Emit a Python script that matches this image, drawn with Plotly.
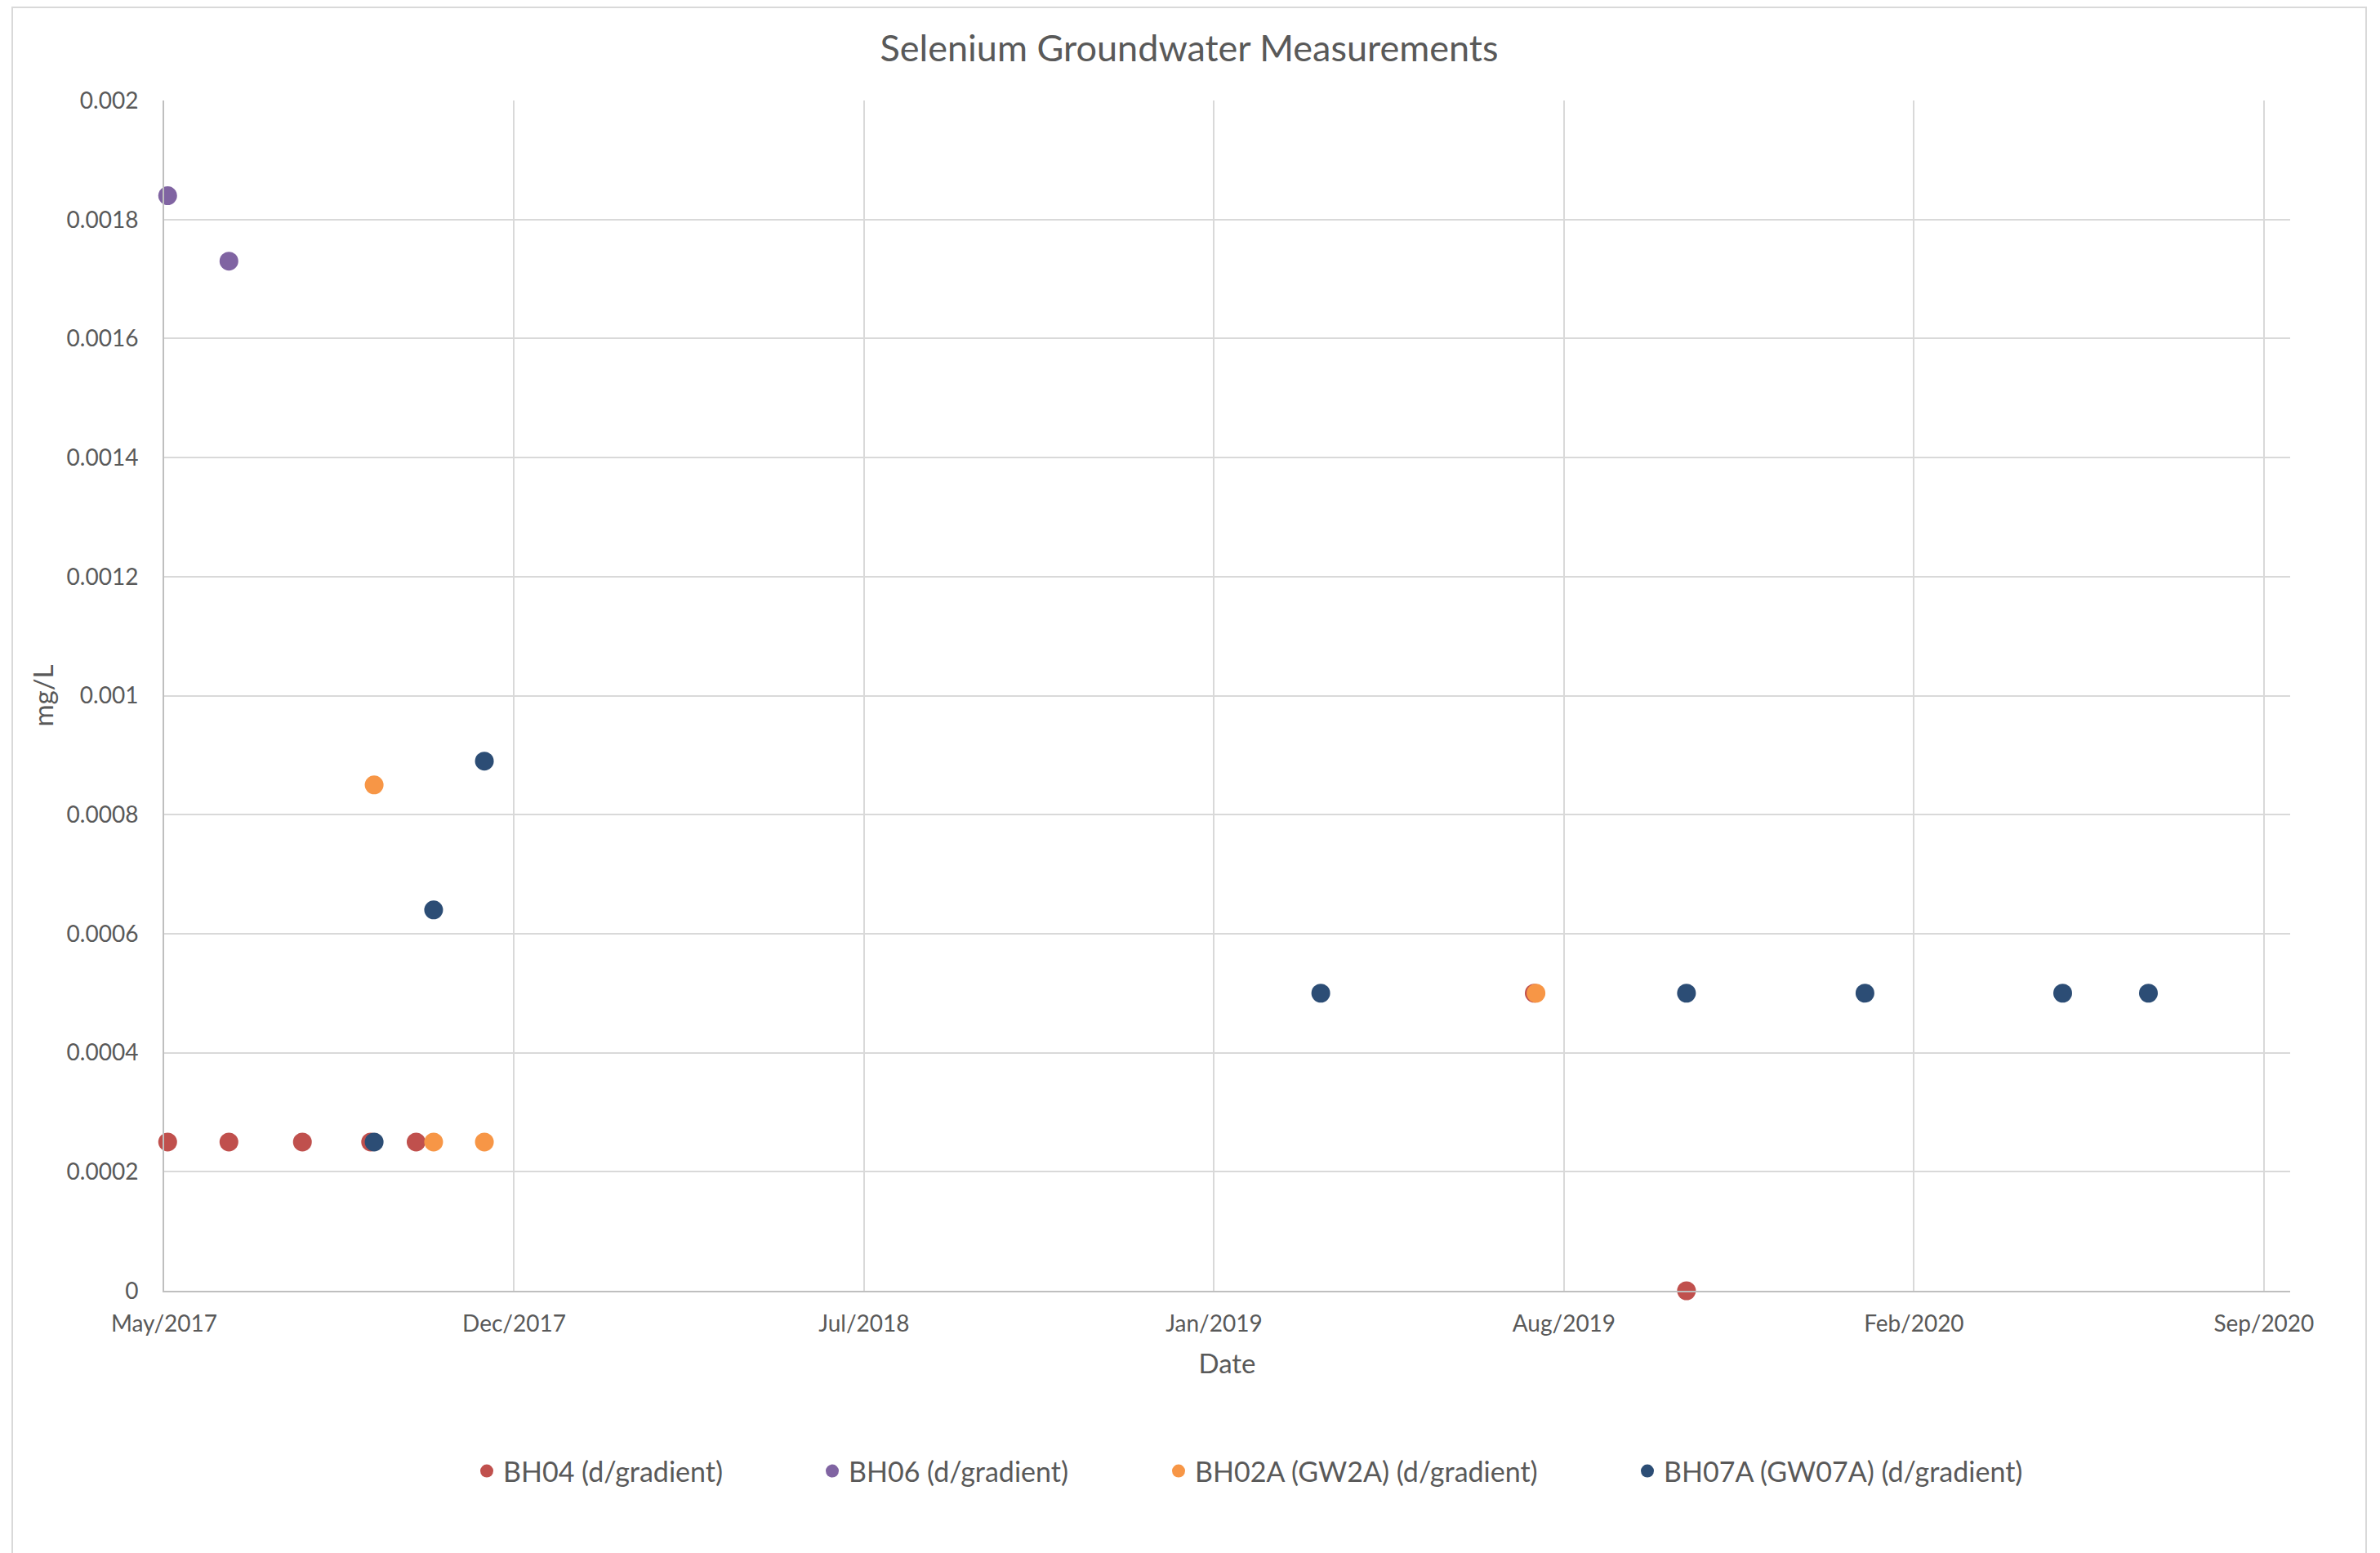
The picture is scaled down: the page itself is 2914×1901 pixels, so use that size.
import pandas as pd
import plotly.graph_objects as go

# ---------------- data ----------------
bh04_dates = ["2017-05-31", "2017-07-05", "2017-08-16", "2017-09-24", "2017-10-20", "2019-07-21", "2019-10-16"]
bh04_vals = [0.00025, 0.00025, 0.00025, 0.00025, 0.00025, 0.0005, 0.0]

bh06_dates = ["2017-05-31", "2017-07-05"]
bh06_vals = [0.00184, 0.00173]

bh02a_dates = ["2017-09-26", "2017-10-30", "2017-11-28", "2019-07-22"]
bh02a_vals = [0.00085, 0.00025, 0.00025, 0.0005]

bh07a_dates = ["2017-09-26", "2017-10-30", "2017-11-28", "2019-03-21", "2019-10-16",
               "2020-01-26", "2020-05-18", "2020-07-06"]
bh07a_vals = [0.00025, 0.00064, 0.00089, 0.0005, 0.0005, 0.0005, 0.0005, 0.0005]

series_names = ["BH04 (d/gradient)", "BH06 (d/gradient)",
                "BH02A (GW2A) (d/gradient)", "BH07A (GW07A) (d/gradient)"]
series_colors = ["#C0504D", "#8064A2", "#F79646", "#2C4D75"]

x_tick_labels = ["May/2017", "Dec/2017", "Jul/2018", "Jan/2019", "Aug/2019", "Feb/2020", "Sep/2020"]
y_tick_vals = [0, 0.0002, 0.0004, 0.0006, 0.0008, 0.001, 0.0012, 0.0014, 0.0016, 0.0018, 0.002]
y_tick_labels = ["0", "0.0002", "0.0004", "0.0006", "0.0008", "0.001", "0.0012",
                 "0.0014", "0.0016", "0.0018", "0.002"]

# axis (Excel-style date axis: start + major unit in days)
axis_start = pd.Timestamp("2017-05-29")
major_unit_days = 200
axis_span_days = 1215
x_tick_vals = pd.date_range(axis_start, periods=len(x_tick_labels), freq=f"{major_unit_days}D")

# ---------------- layout geometry (pixels, page has an 8px body margin) ----------------
W, H = 2914, 1901
OFF = 8
FW, FH = W - OFF, H - OFF            # figure size actually visible
L, R, T, B = 201 - OFF, 2804 - OFF, 123 - OFF, 1580 - OFF   # plot area inside the figure
PW, PH = R - L, B - T


def px_x(p):
    return (p - OFF - L) / PW


def px_y(p):
    return (B - (p - OFF)) / PH


FONT = "Lato, 'Open Sans', sans-serif"
TXT = "#595959"

fig = go.Figure()
all_dates = [bh04_dates, bh06_dates, bh02a_dates, bh07a_dates]
all_vals = [bh04_vals, bh06_vals, bh02a_vals, bh07a_vals]
legend_ids = ["legend", "legend2", "legend3", "legend4"]
for name, color, d, v, lg in zip(series_names, series_colors, all_dates, all_vals, legend_ids):
    fig.add_trace(go.Scatter(
        x=pd.to_datetime(d), y=v, mode="markers", name=name,
        marker=dict(color=color, size=23, line=dict(width=0)),
        legend=lg, cliponaxis=False,
    ))

legend_symbol_px = [596, 1019, 1443, 2017]
legend_common = dict(orientation="h", yanchor="middle", y=px_y(1801), xanchor="left",
                     font=dict(family=FONT, size=34, color=TXT), bgcolor="rgba(0,0,0,0)",
                     borderwidth=0)
legends = {}
for lg, sx in zip(legend_ids, legend_symbol_px):
    legends[lg] = dict(x=px_x(sx - 20), **legend_common)

fig.update_layout(
    width=FW, height=FH,
    margin=dict(l=L, r=FW - R, t=T, b=FH - B, pad=0),
    paper_bgcolor="white", plot_bgcolor="white",
    font=dict(family=FONT, color=TXT),
    title=dict(text="Selenium Groundwater Measurements", x=(1456 - OFF) / FW, xref="container",
               xanchor="center", y=1 - (59 - OFF) / FH, yref="container", yanchor="middle",
               font=dict(family=FONT, size=45, color=TXT)),
    showlegend=True,
    **legends,
)

fig.update_xaxes(
    type="date",
    range=[axis_start, axis_start + pd.Timedelta(days=axis_span_days)],
    tickmode="array", tickvals=x_tick_vals, ticktext=x_tick_labels,
    showgrid=True, gridcolor="#D9D9D9", gridwidth=2,
    showline=True, linecolor="#BFBFBF", linewidth=2,
    zeroline=False, ticks="", ticklabelstandoff=14,
    tickfont=dict(family=FONT, size=28, color=TXT),
    title=dict(text="Date", font=dict(family=FONT, size=33, color=TXT), standoff=23),
)
fig.update_yaxes(
    range=[0, 0.002],
    tickmode="array", tickvals=y_tick_vals, ticktext=y_tick_labels,
    showgrid=True, gridcolor="#D9D9D9", gridwidth=2,
    showline=True, linecolor="#BFBFBF", linewidth=2,
    zeroline=False, ticks="", ticklabelstandoff=24,
    tickfont=dict(family=FONT, size=28, color=TXT),
    title=dict(text="mg/L", font=dict(family=FONT, size=33, color=TXT), standoff=6),
)

# chart-area border (bottom edge lies beyond the visible window, as in the reference)
fig.add_shape(type="rect", xref="paper", yref="paper",
              x0=px_x(15), x1=px_x(2897), y0=px_y(1930), y1=px_y(9),
              line=dict(color="#D9D9D9", width=2), fillcolor="rgba(0,0,0,0)", layer="below")

fig.write_html("out.html")
